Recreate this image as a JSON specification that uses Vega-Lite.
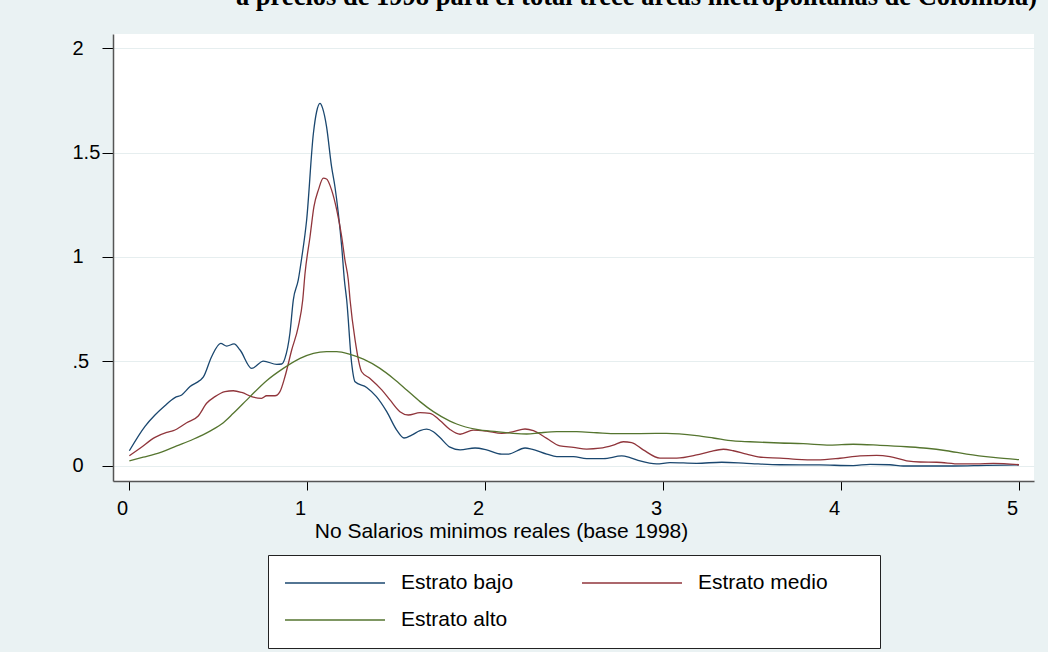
{
  "$schema": "https://vega.github.io/schema/vega-lite/v6.json",
  "width": 921,
  "height": 447,
  "autosize": {"type": "none"},
  "padding": {"left": 113, "top": 34, "right": 14, "bottom": 171},
  "background": "#EAF2F3",
  "config": {
    "view": {"fill": "white", "stroke": null},
    "font": "Liberation Sans"
  },
  "title": {
    "text": "a precios de 1998 para el total trece áreas metropolitanas de Colombia)",
    "font": "Liberation Serif",
    "fontSize": 26.5,
    "fontWeight": "bold",
    "color": "black",
    "anchor": "end",
    "frame": "group",
    "baseline": "alphabetic",
    "offset": 3,
    "dx": 3
  },
  "data": {
    "values": [
      {"serie": "Estrato bajo", "x": 0.002, "y": 0.073},
      {"serie": "Estrato bajo", "x": 0.09, "y": 0.19},
      {"serie": "Estrato bajo", "x": 0.146, "y": 0.244},
      {"serie": "Estrato bajo", "x": 0.2, "y": 0.287},
      {"serie": "Estrato bajo", "x": 0.258, "y": 0.327},
      {"serie": "Estrato bajo", "x": 0.296, "y": 0.34},
      {"serie": "Estrato bajo", "x": 0.343, "y": 0.38},
      {"serie": "Estrato bajo", "x": 0.399, "y": 0.41},
      {"serie": "Estrato bajo", "x": 0.417, "y": 0.425},
      {"serie": "Estrato bajo", "x": 0.464, "y": 0.523},
      {"serie": "Estrato bajo", "x": 0.515, "y": 0.587},
      {"serie": "Estrato bajo", "x": 0.549, "y": 0.574},
      {"serie": "Estrato bajo", "x": 0.59, "y": 0.584},
      {"serie": "Estrato bajo", "x": 0.624, "y": 0.555},
      {"serie": "Estrato bajo", "x": 0.689, "y": 0.467},
      {"serie": "Estrato bajo", "x": 0.755, "y": 0.502},
      {"serie": "Estrato bajo", "x": 0.83, "y": 0.486},
      {"serie": "Estrato bajo", "x": 0.858, "y": 0.488},
      {"serie": "Estrato bajo", "x": 0.876, "y": 0.515},
      {"serie": "Estrato bajo", "x": 0.904, "y": 0.635},
      {"serie": "Estrato bajo", "x": 0.923, "y": 0.794},
      {"serie": "Estrato bajo", "x": 0.951, "y": 0.89},
      {"serie": "Estrato bajo", "x": 0.97, "y": 0.994},
      {"serie": "Estrato bajo", "x": 0.998, "y": 1.177},
      {"serie": "Estrato bajo", "x": 1.036, "y": 1.592},
      {"serie": "Estrato bajo", "x": 1.054, "y": 1.695},
      {"serie": "Estrato bajo", "x": 1.073, "y": 1.735},
      {"serie": "Estrato bajo", "x": 1.088, "y": 1.711},
      {"serie": "Estrato bajo", "x": 1.11, "y": 1.623},
      {"serie": "Estrato bajo", "x": 1.138, "y": 1.432},
      {"serie": "Estrato bajo", "x": 1.157, "y": 1.336},
      {"serie": "Estrato bajo", "x": 1.176, "y": 1.209},
      {"serie": "Estrato bajo", "x": 1.195, "y": 1.049},
      {"serie": "Estrato bajo", "x": 1.21, "y": 0.89},
      {"serie": "Estrato bajo", "x": 1.223, "y": 0.794},
      {"serie": "Estrato bajo", "x": 1.251, "y": 0.49},
      {"serie": "Estrato bajo", "x": 1.27, "y": 0.403},
      {"serie": "Estrato bajo", "x": 1.335, "y": 0.376},
      {"serie": "Estrato bajo", "x": 1.39, "y": 0.332},
      {"serie": "Estrato bajo", "x": 1.448, "y": 0.26},
      {"serie": "Estrato bajo", "x": 1.504, "y": 0.172},
      {"serie": "Estrato bajo", "x": 1.545, "y": 0.134},
      {"serie": "Estrato bajo", "x": 1.588, "y": 0.148},
      {"serie": "Estrato bajo", "x": 1.635, "y": 0.169},
      {"serie": "Estrato bajo", "x": 1.672, "y": 0.176},
      {"serie": "Estrato bajo", "x": 1.71, "y": 0.164},
      {"serie": "Estrato bajo", "x": 1.747, "y": 0.136},
      {"serie": "Estrato bajo", "x": 1.803, "y": 0.09},
      {"serie": "Estrato bajo", "x": 1.86, "y": 0.077},
      {"serie": "Estrato bajo", "x": 1.944, "y": 0.086},
      {"serie": "Estrato bajo", "x": 2.009, "y": 0.077},
      {"serie": "Estrato bajo", "x": 2.094, "y": 0.057},
      {"serie": "Estrato bajo", "x": 2.131, "y": 0.057},
      {"serie": "Estrato bajo", "x": 2.225, "y": 0.086},
      {"serie": "Estrato bajo", "x": 2.262, "y": 0.081},
      {"serie": "Estrato bajo", "x": 2.347, "y": 0.057},
      {"serie": "Estrato bajo", "x": 2.403, "y": 0.045},
      {"serie": "Estrato bajo", "x": 2.497, "y": 0.045},
      {"serie": "Estrato bajo", "x": 2.571, "y": 0.035},
      {"serie": "Estrato bajo", "x": 2.665, "y": 0.035},
      {"serie": "Estrato bajo", "x": 2.768, "y": 0.048},
      {"serie": "Estrato bajo", "x": 2.815, "y": 0.04},
      {"serie": "Estrato bajo", "x": 2.871, "y": 0.024},
      {"serie": "Estrato bajo", "x": 2.964, "y": 0.01},
      {"serie": "Estrato bajo", "x": 3.039, "y": 0.016},
      {"serie": "Estrato bajo", "x": 3.189, "y": 0.013},
      {"serie": "Estrato bajo", "x": 3.33, "y": 0.018},
      {"serie": "Estrato bajo", "x": 3.47, "y": 0.013},
      {"serie": "Estrato bajo", "x": 3.657, "y": 0.006},
      {"serie": "Estrato bajo", "x": 3.882, "y": 0.005},
      {"serie": "Estrato bajo", "x": 4.069, "y": 0.002},
      {"serie": "Estrato bajo", "x": 4.163, "y": 0.008},
      {"serie": "Estrato bajo", "x": 4.275, "y": 0.006},
      {"serie": "Estrato bajo", "x": 4.35, "y": 0.0},
      {"serie": "Estrato bajo", "x": 4.63, "y": 0.0},
      {"serie": "Estrato bajo", "x": 4.818, "y": 0.003},
      {"serie": "Estrato bajo", "x": 5.0, "y": 0.005},

      {"serie": "Estrato medio", "x": 0.002, "y": 0.049},
      {"serie": "Estrato medio", "x": 0.062, "y": 0.085},
      {"serie": "Estrato medio", "x": 0.146, "y": 0.137},
      {"serie": "Estrato medio", "x": 0.212, "y": 0.161},
      {"serie": "Estrato medio", "x": 0.249, "y": 0.169},
      {"serie": "Estrato medio", "x": 0.324, "y": 0.207},
      {"serie": "Estrato medio", "x": 0.389, "y": 0.239},
      {"serie": "Estrato medio", "x": 0.436, "y": 0.3},
      {"serie": "Estrato medio", "x": 0.483, "y": 0.332},
      {"serie": "Estrato medio", "x": 0.539, "y": 0.356},
      {"serie": "Estrato medio", "x": 0.586, "y": 0.36},
      {"serie": "Estrato medio", "x": 0.633, "y": 0.352},
      {"serie": "Estrato medio", "x": 0.698, "y": 0.329},
      {"serie": "Estrato medio", "x": 0.745, "y": 0.324},
      {"serie": "Estrato medio", "x": 0.773, "y": 0.336},
      {"serie": "Estrato medio", "x": 0.82, "y": 0.336},
      {"serie": "Estrato medio", "x": 0.848, "y": 0.356},
      {"serie": "Estrato medio", "x": 0.876, "y": 0.427},
      {"serie": "Estrato medio", "x": 0.914, "y": 0.555},
      {"serie": "Estrato medio", "x": 0.951, "y": 0.667},
      {"serie": "Estrato medio", "x": 0.976, "y": 0.794},
      {"serie": "Estrato medio", "x": 0.989, "y": 0.922},
      {"serie": "Estrato medio", "x": 1.017, "y": 1.097},
      {"serie": "Estrato medio", "x": 1.039, "y": 1.241},
      {"serie": "Estrato medio", "x": 1.064, "y": 1.321},
      {"serie": "Estrato medio", "x": 1.092, "y": 1.377},
      {"serie": "Estrato medio", "x": 1.11, "y": 1.373},
      {"serie": "Estrato medio", "x": 1.138, "y": 1.321},
      {"serie": "Estrato medio", "x": 1.167, "y": 1.225},
      {"serie": "Estrato medio", "x": 1.195, "y": 1.097},
      {"serie": "Estrato medio", "x": 1.213, "y": 0.986},
      {"serie": "Estrato medio", "x": 1.232, "y": 0.89},
      {"serie": "Estrato medio", "x": 1.242, "y": 0.794},
      {"serie": "Estrato medio", "x": 1.27, "y": 0.603},
      {"serie": "Estrato medio", "x": 1.307, "y": 0.451},
      {"serie": "Estrato medio", "x": 1.354, "y": 0.419},
      {"serie": "Estrato medio", "x": 1.42, "y": 0.364},
      {"serie": "Estrato medio", "x": 1.466, "y": 0.316},
      {"serie": "Estrato medio", "x": 1.522, "y": 0.26},
      {"serie": "Estrato medio", "x": 1.569, "y": 0.244},
      {"serie": "Estrato medio", "x": 1.635, "y": 0.255},
      {"serie": "Estrato medio", "x": 1.691, "y": 0.252},
      {"serie": "Estrato medio", "x": 1.747, "y": 0.218},
      {"serie": "Estrato medio", "x": 1.803, "y": 0.175},
      {"serie": "Estrato medio", "x": 1.86, "y": 0.152},
      {"serie": "Estrato medio", "x": 1.934, "y": 0.172},
      {"serie": "Estrato medio", "x": 2.009, "y": 0.167},
      {"serie": "Estrato medio", "x": 2.094, "y": 0.156},
      {"serie": "Estrato medio", "x": 2.159, "y": 0.164},
      {"serie": "Estrato medio", "x": 2.225, "y": 0.177},
      {"serie": "Estrato medio", "x": 2.272, "y": 0.169},
      {"serie": "Estrato medio", "x": 2.347, "y": 0.132},
      {"serie": "Estrato medio", "x": 2.421, "y": 0.096},
      {"serie": "Estrato medio", "x": 2.497, "y": 0.089},
      {"serie": "Estrato medio", "x": 2.571, "y": 0.081},
      {"serie": "Estrato medio", "x": 2.646, "y": 0.085},
      {"serie": "Estrato medio", "x": 2.721, "y": 0.1},
      {"serie": "Estrato medio", "x": 2.777, "y": 0.116},
      {"serie": "Estrato medio", "x": 2.824, "y": 0.112},
      {"serie": "Estrato medio", "x": 2.889, "y": 0.077},
      {"serie": "Estrato medio", "x": 2.983, "y": 0.038},
      {"serie": "Estrato medio", "x": 3.077, "y": 0.038},
      {"serie": "Estrato medio", "x": 3.189, "y": 0.053},
      {"serie": "Estrato medio", "x": 3.264, "y": 0.069},
      {"serie": "Estrato medio", "x": 3.339, "y": 0.08},
      {"serie": "Estrato medio", "x": 3.395, "y": 0.073},
      {"serie": "Estrato medio", "x": 3.47, "y": 0.057},
      {"serie": "Estrato medio", "x": 3.564, "y": 0.041},
      {"serie": "Estrato medio", "x": 3.657, "y": 0.038},
      {"serie": "Estrato medio", "x": 3.751, "y": 0.032},
      {"serie": "Estrato medio", "x": 3.864, "y": 0.029},
      {"serie": "Estrato medio", "x": 3.994, "y": 0.037},
      {"serie": "Estrato medio", "x": 4.107, "y": 0.048},
      {"serie": "Estrato medio", "x": 4.2, "y": 0.051},
      {"serie": "Estrato medio", "x": 4.275, "y": 0.045},
      {"serie": "Estrato medio", "x": 4.369, "y": 0.025},
      {"serie": "Estrato medio", "x": 4.444, "y": 0.019},
      {"serie": "Estrato medio", "x": 4.538, "y": 0.018},
      {"serie": "Estrato medio", "x": 4.669, "y": 0.01},
      {"serie": "Estrato medio", "x": 4.762, "y": 0.01},
      {"serie": "Estrato medio", "x": 4.856, "y": 0.013},
      {"serie": "Estrato medio", "x": 5.0, "y": 0.006},

      {"serie": "Estrato alto", "x": 0.002, "y": 0.025},
      {"serie": "Estrato alto", "x": 0.08, "y": 0.042},
      {"serie": "Estrato alto", "x": 0.174, "y": 0.064},
      {"serie": "Estrato alto", "x": 0.268, "y": 0.096},
      {"serie": "Estrato alto", "x": 0.361, "y": 0.128},
      {"serie": "Estrato alto", "x": 0.455, "y": 0.167},
      {"serie": "Estrato alto", "x": 0.53, "y": 0.207},
      {"serie": "Estrato alto", "x": 0.586, "y": 0.252},
      {"serie": "Estrato alto", "x": 0.68, "y": 0.332},
      {"serie": "Estrato alto", "x": 0.773, "y": 0.408},
      {"serie": "Estrato alto", "x": 0.867, "y": 0.467},
      {"serie": "Estrato alto", "x": 0.961, "y": 0.515},
      {"serie": "Estrato alto", "x": 1.036, "y": 0.539},
      {"serie": "Estrato alto", "x": 1.11, "y": 0.547},
      {"serie": "Estrato alto", "x": 1.167, "y": 0.547},
      {"serie": "Estrato alto", "x": 1.242, "y": 0.534},
      {"serie": "Estrato alto", "x": 1.317, "y": 0.511},
      {"serie": "Estrato alto", "x": 1.41, "y": 0.467},
      {"serie": "Estrato alto", "x": 1.485, "y": 0.419},
      {"serie": "Estrato alto", "x": 1.56, "y": 0.364},
      {"serie": "Estrato alto", "x": 1.635, "y": 0.308},
      {"serie": "Estrato alto", "x": 1.71, "y": 0.26},
      {"serie": "Estrato alto", "x": 1.803, "y": 0.215},
      {"serie": "Estrato alto", "x": 1.841, "y": 0.201},
      {"serie": "Estrato alto", "x": 1.953, "y": 0.175},
      {"serie": "Estrato alto", "x": 2.066, "y": 0.164},
      {"serie": "Estrato alto", "x": 2.159, "y": 0.156},
      {"serie": "Estrato alto", "x": 2.234, "y": 0.153},
      {"serie": "Estrato alto", "x": 2.309, "y": 0.159},
      {"serie": "Estrato alto", "x": 2.403, "y": 0.164},
      {"serie": "Estrato alto", "x": 2.515, "y": 0.164},
      {"serie": "Estrato alto", "x": 2.628, "y": 0.159},
      {"serie": "Estrato alto", "x": 2.74, "y": 0.155},
      {"serie": "Estrato alto", "x": 2.871, "y": 0.155},
      {"serie": "Estrato alto", "x": 3.02, "y": 0.156},
      {"serie": "Estrato alto", "x": 3.189, "y": 0.145},
      {"serie": "Estrato alto", "x": 3.283, "y": 0.134},
      {"serie": "Estrato alto", "x": 3.395, "y": 0.12},
      {"serie": "Estrato alto", "x": 3.489, "y": 0.116},
      {"serie": "Estrato alto", "x": 3.657, "y": 0.11},
      {"serie": "Estrato alto", "x": 3.788, "y": 0.107},
      {"serie": "Estrato alto", "x": 3.938, "y": 0.1},
      {"serie": "Estrato alto", "x": 4.069, "y": 0.104},
      {"serie": "Estrato alto", "x": 4.219, "y": 0.099},
      {"serie": "Estrato alto", "x": 4.369, "y": 0.092},
      {"serie": "Estrato alto", "x": 4.481, "y": 0.085},
      {"serie": "Estrato alto", "x": 4.594, "y": 0.073},
      {"serie": "Estrato alto", "x": 4.706, "y": 0.057},
      {"serie": "Estrato alto", "x": 4.856, "y": 0.041},
      {"serie": "Estrato alto", "x": 5.0, "y": 0.03}
    ]
  },
  "mark": {"type": "line", "interpolate": "monotone", "strokeWidth": 1.3},
  "encoding": {
    "x": {
      "field": "x",
      "type": "quantitative",
      "scale": {"domain": [-0.0899, 5.0843], "nice": false, "zero": false},
      "axis": {
        "values": [0, 1, 2, 3, 4, 5],
        "format": "d",
        "grid": false,
        "labelFont": "Liberation Sans",
        "labelFontSize": 20,
        "labelColor": "black",
        "labelOffset": -7,
        "labelPadding": 8,
        "tickSize": 9,
        "tickColor": "black",
        "tickWidth": 1,
        "domainColor": "#555555",
        "domainWidth": 1.5,
        "title": "No Salarios minimos reales (base 1998)",
        "titleFont": "Liberation Sans",
        "titleFontSize": 21,
        "titleFontWeight": "normal",
        "titleColor": "black",
        "titleX": 388,
        "titleY": 56,
        "titleAlign": "center",
        "titleBaseline": "alphabetic"
      }
    },
    "y": {
      "field": "y",
      "type": "quantitative",
      "scale": {"domain": [-0.0718, 2.067], "nice": false, "zero": false},
      "axis": {
        "values": [0, 0.5, 1, 1.5, 2],
        "labelExpr": "datum.value == 0.5 ? '.5' : format(datum.value, '~g')",
        "grid": true,
        "gridColor": "#E6EEEF",
        "gridWidth": 1,
        "labelFont": "Liberation Sans",
        "labelFontSize": 20,
        "labelColor": "black",
        "labelAlign": "left",
        "labelBaseline": "middle",
        "labelPadding": 30,
        "labelOverlap": false,
        "tickSize": 11,
        "tickColor": "black",
        "tickWidth": 1,
        "domainColor": "#555555",
        "domainWidth": 1.5,
        "title": null
      }
    },
    "color": {
      "field": "serie",
      "type": "nominal",
      "scale": {
        "domain": ["Estrato bajo", "Estrato alto", "Estrato medio"],
        "range": ["#1A476F", "#55752F", "#90353B"]
      },
      "legend": {
        "orient": "none",
        "legendX": 155,
        "legendY": 521,
        "columns": 2,
        "symbolType": "stroke",
        "symbolSize": 10000,
        "symbolStrokeWidth": 1.3,
        "clipHeight": 24,
        "rowPadding": 13,
        "columnPadding": 67,
        "labelOffset": 15,
        "labelFont": "Liberation Sans",
        "labelFontSize": 21,
        "labelColor": "black",
        "labelLimit": 400,
        "padding": 16,
        "strokeColor": "#222222",
        "fillColor": "white",
        "title": " ",
        "titleOrient": "right",
        "titlePadding": 36,
        "titleFontSize": 8
      }
    }
  }
}
